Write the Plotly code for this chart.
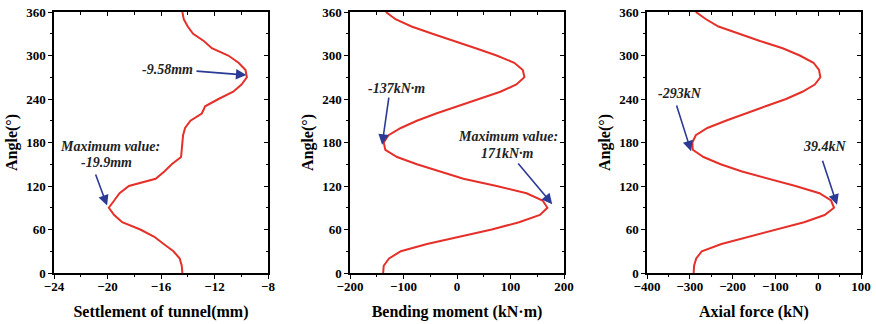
import plotly.graph_objects as go

angles = list(range(0, 361, 10))

settlement = [-14.4, -14.45, -14.6, -15.07, -15.8, -16.5, -17.55, -18.9, -19.5, -19.9,
              -19.5, -19.1, -18.4, -16.4, -15.75, -15.2, -14.5, -14.45, -14.4, -14.35,
              -14.2, -13.8, -12.95, -12.7, -11.7, -10.6, -9.98, -9.58, -9.68, -10.2,
              -10.97, -12.2, -12.8, -13.6, -14.0, -14.3, -14.4]

moment = [-138, -137, -127, -105, -56, 5, 65, 116, 155, 169,
          160, 130, 74, 12, -33, -75, -112, -134, -137, -128,
          -105, -75, -39, -1, 41, 81, 111, 126, 123, 107,
          74, 35, -7, -46, -85, -115, -133]

axial = [-291, -290, -285, -272, -226, -162, -94, -33, 15, 37,
         30, 3, -53, -118, -178, -228, -268, -293, -294, -286,
         -259, -216, -171, -123, -75, -37, -8, 5, 2, -11,
         -43, -83, -136, -185, -233, -262, -286]

x_titles = ["Settlement of tunnel(mm)", "Bending moment (kN\u00b7m)", "Axial force (kN)"]
x_ranges = [[-24, -8], [-200, 200], [-400, 100]]
x_dticks = [4, 100, 100]
x_minor = [2, 50, 50]
y_range = [0, 360]
y_title = "Angle(\u00b0)"

# annotations: (panel, text, x, y)
labels = [
    (1, "-9.58mm", -15.5, 281),
    (1, "Maximum value:", -19.8, 175),
    (1, "-19.9mm", -20.06, 152),
    (2, "-137kN\u00b7m", -114, 255),
    (2, "Maximum value:", 95, 188),
    (2, "171kN\u00b7m", 95, 165),
    (3, "-293kN", -323, 247),
    (3, "39.4kN", 16, 174),
]
# arrows: (panel, tail_x, tail_y, tip_x, tip_y)
arrows = [
    (1, -13.46, 278.6, -9.62, 273),
    (1, -20.93, 138, -20.03, 93),
    (2, -127, 244, -140, 177),
    (2, 112, 153, 178, 95),
    (3, -332, 233, -297, 168),
    (3, 9, 157, 44, 94),
]

W, H = 876, 324
x_px = [(54, 268), (350, 564), (647, 861)]
y_top, y_bot = 12, 273

red = "#E5302A"
blue = "#2B3A95"
font_fam = "Liberation Serif, Times New Roman, serif"

fig = go.Figure()
series = [settlement, moment, axial]
for i, s in enumerate(series):
    n = i + 1
    fig.add_trace(go.Scatter(x=s, y=angles, mode="lines",
                             line=dict(color=red, width=2),
                             xaxis="x" if n == 1 else f"x{n}",
                             yaxis="y" if n == 1 else f"y{n}",
                             showlegend=False, hoverinfo="skip"))
    # invisible trace for mirror axes
    fig.add_trace(go.Scatter(x=s, y=angles, mode="lines",
                             line=dict(color="rgba(0,0,0,0)", width=0),
                             xaxis=f"x{n+3}", yaxis=f"y{n+3}",
                             showlegend=False, hoverinfo="skip"))

tickfont = dict(family=font_fam, size=13, color="black", weight="bold")
titlefont = dict(family=font_fam, size=16, color="black", weight="bold")
ydom = [1 - y_bot / H, 1 - y_top / H]

layout = dict(width=W, height=H, margin=dict(l=0, r=0, t=0, b=0),
              template="none",
              paper_bgcolor="white", plot_bgcolor="white", showlegend=False)
for i in range(3):
    n = i + 1
    xs = "" if n == 1 else str(n)
    xdom = [x_px[i][0] / W, x_px[i][1] / W]
    layout[f"xaxis{xs}"] = dict(
        domain=xdom, anchor=f"y{xs}", range=x_ranges[i], dtick=x_dticks[i],
        tick0=x_ranges[i][0], showgrid=False, zeroline=False, automargin=False,
        showline=True, linecolor="black", linewidth=1.5, mirror=True,
        ticks="outside", ticklen=4, tickwidth=1.2, tickcolor="black",
        ticklabelstandoff=-3,
        minor=dict(dtick=x_minor[i], ticks="outside", ticklen=2.5, tickwidth=1, tickcolor="black"),
        tickfont=tickfont,
        title=dict(text=x_titles[i], font=titlefont, standoff=12),
    )
    layout[f"yaxis{xs}"] = dict(
        domain=ydom, anchor=f"x{xs}", range=y_range, dtick=60, tick0=0,
        showgrid=False, zeroline=False, automargin=False,
        showline=True, linecolor="black", linewidth=1.5, mirror=True,
        ticks="outside", ticklen=4, tickwidth=1.2, tickcolor="black",
        minor=dict(dtick=30, ticks="outside", ticklen=2.5, tickwidth=1, tickcolor="black"),
        tickfont=tickfont,
        title=dict(text=y_title, font=titlefont, standoff=5),
    )
    m = n + 3
    layout[f"xaxis{m}"] = dict(
        overlaying=f"x{xs}", side="top", anchor=f"y{xs}", range=x_ranges[i],
        dtick=x_dticks[i], tick0=x_ranges[i][0], showgrid=False, zeroline=False,
        showline=False, showticklabels=False, automargin=False,
        ticks="inside", ticklen=4, tickwidth=1.2, tickcolor="black",
        minor=dict(dtick=x_minor[i], ticks="inside", ticklen=2.5, tickwidth=1, tickcolor="black"),
    )
    layout[f"yaxis{m}"] = dict(
        overlaying=f"y{xs}", side="right", anchor=f"x{xs}", range=y_range,
        dtick=60, tick0=0, showgrid=False, zeroline=False,
        showline=False, showticklabels=False, automargin=False,
        ticks="inside", ticklen=4, tickwidth=1.2, tickcolor="black",
        minor=dict(dtick=30, ticks="inside", ticklen=2.5, tickwidth=1, tickcolor="black"),
    )

annots = []
afont = dict(family=font_fam, size=14, color="#222222", weight="bold", style="italic")
for p, t, x, y in labels:
    xs = "" if p == 1 else str(p)
    annots.append(dict(xref=f"x{xs}", yref=f"y{xs}", x=x, y=y, text=t,
                       showarrow=False, font=afont, xanchor="center", yanchor="middle"))
for p, tx, ty, hx, hy in arrows:
    xs = "" if p == 1 else str(p)
    annots.append(dict(xref=f"x{xs}", yref=f"y{xs}", x=hx, y=hy, text="",
                       axref=f"x{xs}", ayref=f"y{xs}", ax=tx, ay=ty,
                       showarrow=True, arrowhead=2, arrowsize=1.3, arrowwidth=1.6,
                       arrowcolor=blue, standoff=0, startstandoff=0))
layout["annotations"] = annots

fig.update_layout(**layout)
fig.write_html("out.html", config={"displayModeBar": False},
               post_script="document.body.style.margin='0';document.body.style.overflow='hidden';")
